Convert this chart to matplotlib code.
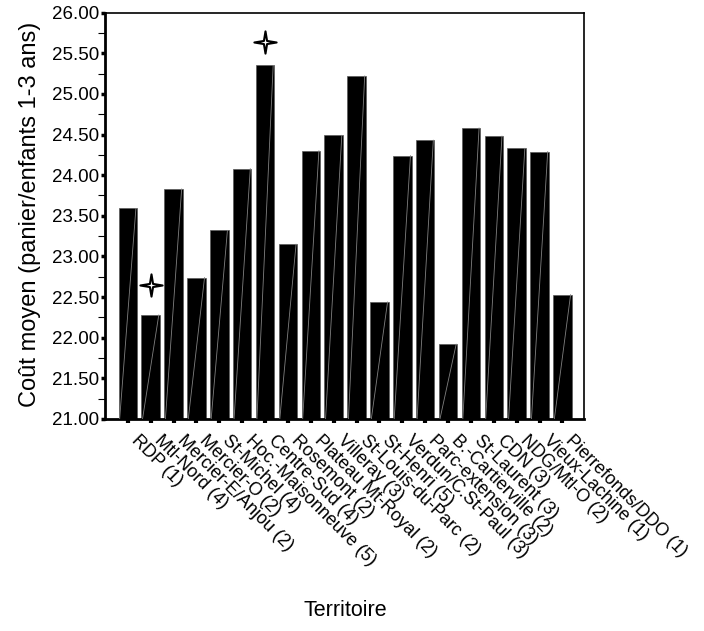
import matplotlib

matplotlib.use("Agg")
import matplotlib.pyplot as plt
import matplotlib.transforms as mtransforms
import numpy as np
from matplotlib.path import Path
from matplotlib.ticker import MultipleLocator, FormatStrFormatter

plt.rcParams["font.family"] = ["Liberation Sans", "DejaVu Sans"]

territoires = [
    "RDP (1)", "Mtl-Nord (4)", "Mercier-E/Anjou (2)", "Mercier-O (2)",
    "St-Michel (4)", "Hoc.-Maisonneuve (5)", "Centre-Sud (4)", "Rosemont (2)",
    "Plateau Mt-Royal (2)", "Villeray (3)", "St-Louis-du-Parc (2)", "St-Henri (5)",
    "Verdun/C.St-Paul (3)", "Parc-extension (3)", "B.-Cartierville (2)",
    "St-Laurent (3)", "CDN (3)", "NDG/Mtl-O (2)", "Vieux-Lachine (1)",
    "Pierrefonds/DDO (1)",
]
cout_moyen = [
    23.59, 22.28, 23.83, 22.74, 23.32, 24.08, 25.35, 23.15, 24.30, 24.49,
    25.22, 22.44, 24.24, 24.43, 21.92, 24.58, 24.48, 24.33, 24.29, 22.53,
]
# territories flagged with a star (min and max), and the star heights
star_idx = [1, 6]
star_y = [22.65, 25.64]


def _star_marker(inner=0.2):
    verts = []
    for k in range(8):
        ang = np.pi / 2 + k * np.pi / 4
        r = 1.0 if k % 2 == 0 else inner
        verts.append((r * np.cos(ang), r * np.sin(ang)))
    verts.append(verts[0])
    codes = [Path.MOVETO] + [Path.LINETO] * 7 + [Path.CLOSEPOLY]
    return Path(verts, codes)


fig = plt.figure(figsize=(7.04, 6.31), dpi=100)
ax = fig.add_axes([0.149, 0.336, 0.6805, 0.644])

x = np.arange(len(territoires))
width = 0.81
ax.bar(x, np.array(cout_moyen) - 21.0, bottom=21.0, width=width,
       color="black", edgecolor="0.35", linewidth=0.5, zorder=2)

# thin diagonal streak inside each bar
for xi, v in zip(x, cout_moyen):
    ax.plot([xi - width / 2 + 0.05, xi + width / 2 - 0.05], [21.0, v],
            color="0.5", linewidth=0.6, zorder=3)

ax.plot([x[i] for i in star_idx], star_y, linestyle="none",
        marker=_star_marker(), markersize=16, markerfacecolor="white",
        markeredgecolor="black", markeredgewidth=1.5, zorder=4)

ax.set_xlim(-1.0, 19.94)
ax.set_ylim(21.0, 26.0)

ax.yaxis.set_major_locator(MultipleLocator(0.5))
ax.yaxis.set_minor_locator(MultipleLocator(0.25))
ax.yaxis.set_major_formatter(FormatStrFormatter("%.2f"))
ax.tick_params(axis="y", which="major", direction="out", length=3, width=2.5,
               pad=1, labelsize=13.5)
ax.tick_params(axis="y", which="minor", direction="out", length=5, width=0.8)

ax.set_xticks(x)
ax.set_xticklabels(territoires, rotation=-45, ha="left", va="top",
                   rotation_mode="anchor", fontsize=13)
ax.tick_params(axis="x", direction="out", length=3, width=3, pad=6)
shift = mtransforms.ScaledTranslation(0.12, 0.0, fig.dpi_scale_trans)
for lbl in ax.get_xticklabels():
    lbl.set_transform(lbl.get_transform() + shift)

for side in ["left", "bottom"]:
    ax.spines[side].set_linewidth(2.0)
for side in ["top", "right"]:
    ax.spines[side].set_linewidth(1.2)

fig.text(0.043, 0.66, "Coût moyen (panier/enfants 1-3 ans)", rotation=90,
         ha="center", va="center", fontsize=17)
fig.text(0.49, 0.033, "Territoire", ha="center", va="center", fontsize=15.5)

fig.savefig("out.png", dpi=100)
